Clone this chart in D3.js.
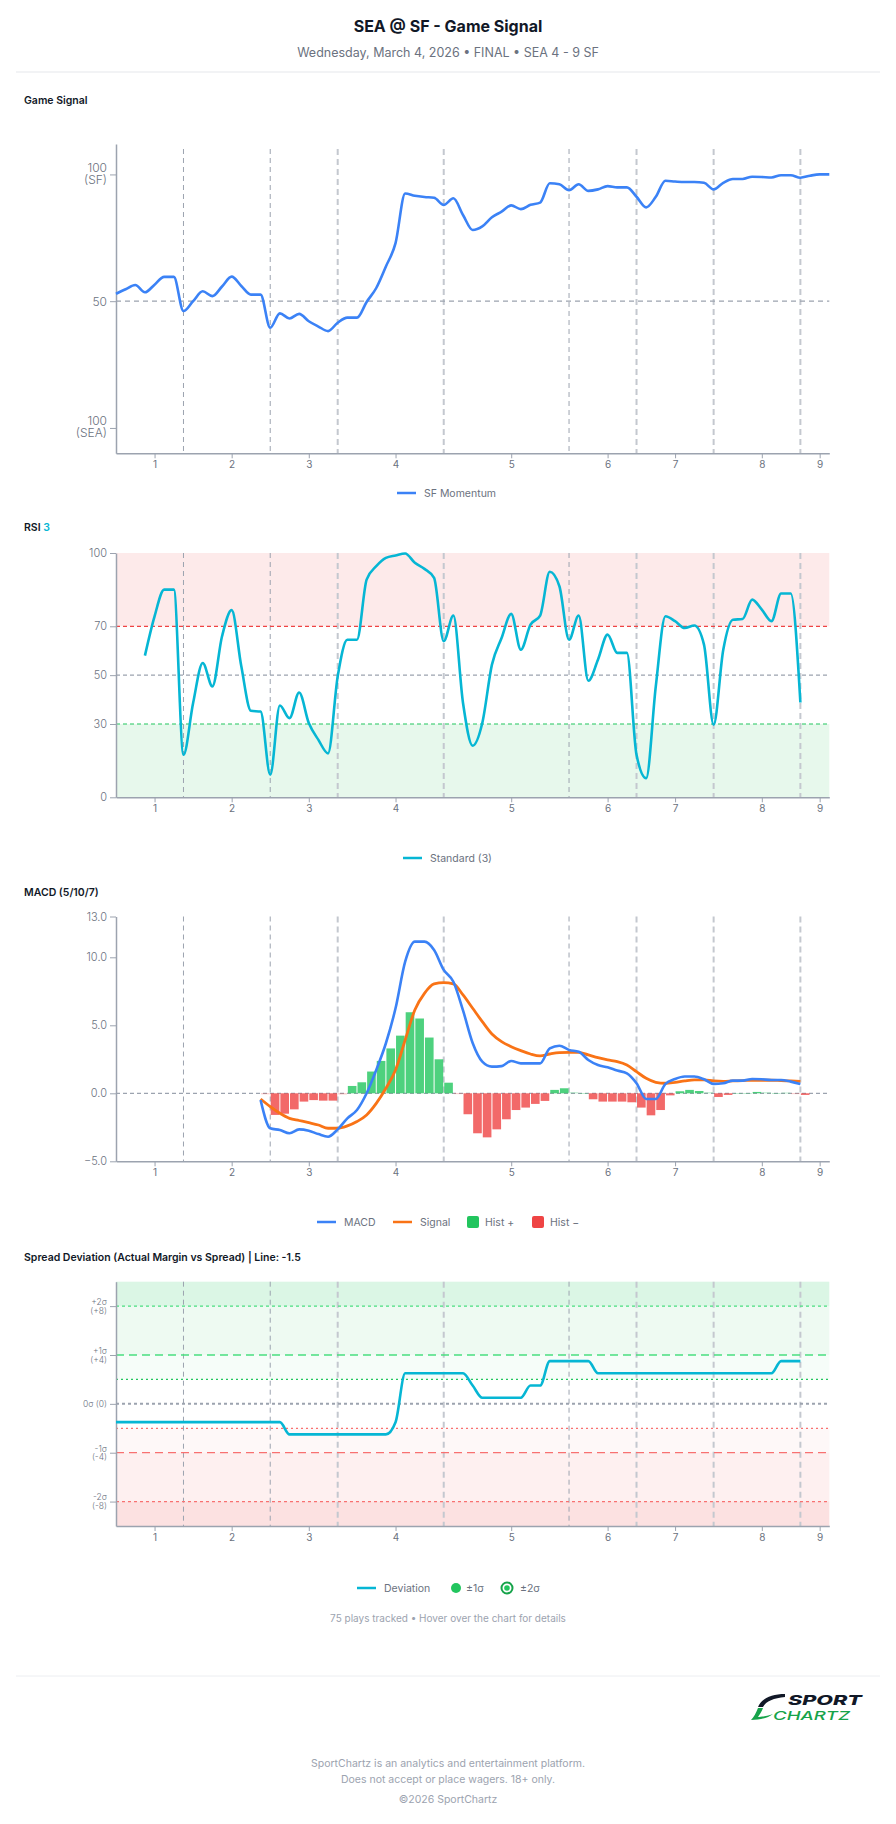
<!DOCTYPE html>
<html lang="en">
<head>
<meta charset="utf-8">
<title>SEA @ SF - Game Signal</title>
<script src="https://d3js.org/d3.v7.min.js"></script>
<style>
  body { margin: 0; background: #fff; }
  svg { display: block; font-family: Inter, "Noto Sans", sans-serif; }
</style>
</head>
<body>
<script>
const width = 896, height = 1824;

// x = play index (0..74), tick labels are innings
const inningLabels = ["1", "2", "3", "4", "5", "6", "7", "8", "9"];
const inningTickPlays = [4, 12, 20, 29, 41, 51, 58, 67, 73];
const markerPlaysThin = [7, 16, 47];
const markerPlaysThick = [23, 34, 54, 62, 71];

// Game Signal: 0 = SEA, 100 = SF
const momentum = [
  52.9, 54.7, 56.4, 53.5, 56.5, 59.6, 59.6, 46.1, 50.0, 53.9,
  52.0, 55.8, 59.7, 56.0, 52.6, 52.6, 39.5, 45.2, 43.2, 45.0,
  42.1, 40.0, 38.2, 41.5, 43.5, 43.5, 49.7, 55.2, 63.7, 72.9,
  92.5, 91.6, 91.1, 90.8, 88.0, 90.6, 84.0, 78.1, 79.5, 83.1,
  85.3, 87.8, 86.3, 88.0, 88.9, 96.5, 96.1, 93.8, 96.1, 93.5,
  94.1, 95.4, 94.9, 94.9, 91.2, 87.0, 91.2, 97.5, 97.2, 97.0,
  97.0, 96.7, 94.1, 96.7, 98.2, 98.2, 99.1, 99.0, 98.8, 99.7,
  99.7, 98.7, 99.5, 100.0, 100.0
];

const rsi = [
  null, null, null, 58.0, 74.1, 85.0, 85.0, 17.4, 38.6, 55.0,
  45.4, 65.9, 76.6, 53.6, 35.4, 35.1, 9.2, 37.6, 32.4, 42.9,
  30.4, 23.5, 18.0, 49.5, 64.5, 64.5, 89.1, 94.6, 98.0, 99.0,
  99.8, 96.0, 93.5, 89.8, 63.9, 74.4, 38.6, 21.1, 30.4, 54.3,
  65.2, 75.1, 60.4, 70.7, 74.4, 92.3, 86.4, 64.5, 74.4, 47.7,
  56.3, 66.6, 59.1, 59.1, 17.4, 7.8, 45.4, 74.1, 72.1, 69.3,
  70.3, 62.5, 29.7, 60.4, 72.7, 73.0, 80.9, 76.8, 72.1, 83.4,
  83.4, 38.8
];

const macd = [
  null, null, null, null, null, null, null, null, null, null,
  null, null, null, null, null, -0.49, -2.57, -2.70, -2.94, -2.65,
  -2.75, -3.00, -3.19, -2.65, -1.84, -1.23, 0.00, 1.72, 3.68, 6.25,
  9.68, 11.15, 11.15, 10.54, 9.07, 8.20, 6.10, 3.70, 2.33, 1.96,
  2.00, 2.38, 2.20, 2.20, 2.20, 3.30, 3.50, 3.19, 3.06, 2.45,
  2.08, 1.91, 1.67, 1.47, 0.74, -0.42, -0.42, 0.69, 1.05, 1.23,
  1.23, 1.03, 0.69, 0.74, 0.93, 0.93, 1.05, 1.03, 0.98, 0.98,
  0.86, 0.69
];

const signal = [
  null, null, null, null, null, null, null, null, null, null,
  null, null, null, null, null, -0.42, -0.98, -1.47, -1.84, -2.00,
  -2.16, -2.33, -2.57, -2.57, -2.40, -2.08, -1.59, -0.74, 0.37, 1.72,
  3.92, 6.13, 7.35, 8.04, 8.14, 8.04, 7.23, 6.25, 5.27, 4.36,
  3.80, 3.43, 3.14, 2.89, 2.75, 2.89, 2.99, 3.01, 3.01, 2.82,
  2.62, 2.45, 2.33, 2.08, 1.59, 1.10, 0.81, 0.74, 0.81, 0.91,
  0.98, 0.98, 0.91, 0.88, 0.91, 0.93, 0.96, 0.96, 0.96, 0.93,
  0.91, 0.88
];

const hist = [
  null, null, null, null, null, null, null, null, null, null,
  null, null, null, null, null, -0.07, -1.59, -1.50, -1.18, -0.61,
  -0.50, -0.54, -0.54, -0.08, 0.54, 0.81, 1.60, 2.38, 3.30, 4.24,
  5.96, 5.50, 4.10, 2.50, 0.78, -0.05, -1.54, -2.94, -3.24, -2.65,
  -1.91, -1.23, -1.05, -0.78, -0.56, 0.25, 0.37, 0.07, 0.02, -0.44,
  -0.61, -0.61, -0.61, -0.66, -1.05, -1.62, -1.23, -0.15, 0.15, 0.25,
  0.17, 0.07, -0.27, -0.12, 0.02, 0.02, 0.10, 0.07, 0.02, 0.05,
  -0.05, -0.12
];

// actual margin vs spread (-1.5)
const deviation = [
  -1.5, -1.5, -1.5, -1.5, -1.5, -1.5, -1.5, -1.5, -1.5, -1.5,
  -1.5, -1.5, -1.5, -1.5, -1.5, -1.5, -1.5, -1.5, -2.5, -2.5,
  -2.5, -2.5, -2.5, -2.5, -2.5, -2.5, -2.5, -2.5, -2.5, -1.5,
  2.5, 2.5, 2.5, 2.5, 2.5, 2.5, 2.5, 1.5, 0.5, 0.5,
  0.5, 0.5, 0.5, 1.5, 1.5, 3.5, 3.5, 3.5, 3.5, 3.5,
  2.5, 2.5, 2.5, 2.5, 2.5, 2.5, 2.5, 2.5, 2.5, 2.5,
  2.5, 2.5, 2.5, 2.5, 2.5, 2.5, 2.5, 2.5, 2.5, 3.5,
  3.5, 3.5
];

const rsiTicks = [0, 30, 50, 70, 100];
const macdTicks = [-5, 0, 5, 10, 13];
const sigmaTicks = [8, 4, 0, -4, -8];
const sigmaLabels = [["+2σ", "(+8)"], ["+1σ", "(+4)"], ["0σ (0)"], ["-1σ", "(-4)"], ["-2σ", "(-8)"]];

const svg = d3.select("body").append("svg")
  .attr("width", width)
  .attr("height", height);

const x = d3.scaleLinear().domain([0, 74]).range([116, 829.3]);
const left = x(0), right = x(74);
const step = x(1) - x(0);

const gray = "#9ca3af";
const textGray = "#6b7280";

// ---------- header ----------
svg.append("text").attr("x", 448).attr("y", 32).attr("text-anchor", "middle")
  .attr("font-size", 16).attr("font-weight", 700).attr("fill", "#111827")
  .text("SEA @ SF - Game Signal");
svg.append("text").attr("x", 448).attr("y", 57).attr("text-anchor", "middle")
  .attr("font-size", 12.5).attr("fill", textGray)
  .text("Wednesday, March 4, 2026 • FINAL • SEA 4 - 9 SF");
svg.append("line").attr("x1", 16).attr("x2", 880).attr("y1", 72).attr("y2", 72)
  .attr("stroke", "#e5e7eb");

function panelTitle(y, txt) {
  return svg.append("text").attr("x", 24).attr("y", y)
    .attr("font-size", 10.5).attr("font-weight", 600).attr("fill", "#111827")
    .text(txt);
}

function markers(top, bottom) {
  svg.append("g").selectAll("line").data(markerPlaysThin).join("line")
    .attr("x1", d => x(d)).attr("x2", d => x(d))
    .attr("y1", top).attr("y2", bottom)
    .attr("stroke", gray).attr("stroke-width", 1).attr("stroke-dasharray", "5,4");
  svg.append("g").selectAll("line").data(markerPlaysThick).join("line")
    .attr("x1", d => x(d)).attr("x2", d => x(d))
    .attr("y1", top).attr("y2", bottom)
    .attr("stroke", "#c4c8cf").attr("stroke-width", 2).attr("stroke-dasharray", "6,4");
}

function xAxis(y0) {
  const g = svg.append("g").attr("transform", "translate(0," + y0 + ")")
    .call(d3.axisBottom(x).tickValues(inningTickPlays)
      .tickFormat((d, i) => inningLabels[i]).tickSize(5).tickSizeOuter(0));
  g.select(".domain").attr("stroke", gray).attr("stroke-width", 1.5);
  g.selectAll(".tick line").attr("stroke", gray);
  g.selectAll("text").attr("fill", textGray).attr("font-size", 10)
    .attr("font-family", "Inter, sans-serif");
}

function yAxis(y, ticks, fmt, size) {
  const g = svg.append("g").attr("transform", "translate(" + left + ",0)")
    .call(d3.axisLeft(y).tickValues(ticks).tickFormat(fmt).tickSize(6).tickSizeOuter(0));
  g.select(".domain").attr("stroke", gray).attr("stroke-width", 1.5);
  g.selectAll(".tick line").attr("stroke", gray);
  g.selectAll("text").attr("fill", textGray).attr("font-size", size)
    .attr("font-weight", 300).attr("font-family", "Inter, sans-serif");
  return g;
}

function hline(y, stroke, dash, w) {
  svg.append("line").attr("x1", left).attr("x2", right).attr("y1", y).attr("y2", y)
    .attr("stroke", stroke).attr("stroke-dasharray", dash).attr("stroke-width", w || 1.2);
}

function legendLine(xp, y, color, label) {
  svg.append("line").attr("x1", xp).attr("x2", xp + 19).attr("y1", y).attr("y2", y)
    .attr("stroke", color).attr("stroke-width", 2.5);
  svg.append("text").attr("x", xp + 27).attr("y", y + 3.5)
    .attr("font-size", 10.5).attr("fill", textGray).text(label);
}

const lineGen = y => d3.line()
  .defined(d => d != null)
  .x((d, i) => x(i))
  .y(d => y(d))
  .curve(d3.curveMonotoneX);

// ---------- Panel 1: Game Signal ----------
panelTitle(104, "Game Signal");
const y1 = d3.scaleLinear().domain([-10, 112]).range([453.3, 144]);
markers(149, y1(-10));
hline(y1(50), gray, "5,4", 1.2);
const ya1 = yAxis(y1, [0, 50, 100], d => d, 12);
ya1.selectAll(".tick text").each(function (d) {
  const t = d3.select(this);
  if (d === 50) return;
  t.text(null);
  t.append("tspan").attr("x", -9).attr("dy", "-0.25em").text("100");
  t.append("tspan").attr("x", -9).attr("dy", "1em").text(d === 100 ? "(SF)" : "(SEA)");
});
xAxis(y1(-10));
svg.append("path").datum(momentum)
  .attr("fill", "none").attr("stroke", "#3b82f6").attr("stroke-width", 2.6)
  .attr("stroke-linejoin", "round").attr("d", lineGen(y1));
legendLine(397, 493, "#3b82f6", "SF Momentum");

// ---------- Panel 2: RSI ----------
const rsiTitle = panelTitle(531, "RSI ");
rsiTitle.append("tspan").attr("fill", "#06b6d4").text("3");
const y2 = d3.scaleLinear().domain([0, 100]).range([797.3, 553]);
svg.append("rect").attr("x", left).attr("width", right - left)
  .attr("y", y2(100)).attr("height", y2(70) - y2(100)).attr("fill", "#fdeaea");
svg.append("rect").attr("x", left).attr("width", right - left)
  .attr("y", y2(30)).attr("height", y2(0) - y2(30)).attr("fill", "#e7f8ec");
markers(y2(100), y2(0));
hline(y2(70), "#ef4444", "4,3", 1.2);
hline(y2(50), gray, "4,3", 1.2);
hline(y2(30), "#22c55e", "4,3", 1.2);
yAxis(y2, rsiTicks, d => d, 11);
xAxis(y2(0));
svg.append("path").datum(rsi)
  .attr("fill", "none").attr("stroke", "#06b6d4").attr("stroke-width", 2.6)
  .attr("stroke-linejoin", "round").attr("d", lineGen(y2));
legendLine(403, 858, "#06b6d4", "Standard (3)");

// ---------- Panel 3: MACD ----------
panelTitle(896, "MACD (5/10/7)");
const y3 = d3.scaleLinear().domain([-5, 13]).range([1161.3, 916.5]);
markers(y3(13), y3(-5));
hline(y3(0), gray, "4,3", 1.2);
svg.append("g").selectAll("rect")
  .data(hist.map((v, i) => ({ i, v })).filter(d => d.v != null))
  .join("rect")
  .attr("x", d => x(d.i) + 0.5)
  .attr("width", step - 1)
  .attr("y", d => y3(Math.max(0, d.v)))
  .attr("height", d => Math.max(0.8, Math.abs(y3(d.v) - y3(0))))
  .attr("fill", d => d.v >= 0 ? "#22c55e" : "#ef4444")
  .attr("fill-opacity", d => Math.abs(d.v) < 0.1 ? 0.35 : 0.8);
yAxis(y3, macdTicks, d3.format(".1f"), 11);
xAxis(y3(-5));
svg.append("path").datum(signal)
  .attr("fill", "none").attr("stroke", "#f97316").attr("stroke-width", 2.8)
  .attr("d", lineGen(y3));
svg.append("path").datum(macd)
  .attr("fill", "none").attr("stroke", "#3b82f6").attr("stroke-width", 2.6)
  .attr("d", lineGen(y3));
legendLine(317, 1222, "#3b82f6", "MACD");
legendLine(393, 1222, "#f97316", "Signal");
[["#22c55e", "Hist +", 467], ["#ef4444", "Hist \u2212", 532]].forEach(([c, t, xp]) => {
  svg.append("rect").attr("x", xp).attr("y", 1216).attr("width", 12).attr("height", 12)
    .attr("rx", 2).attr("fill", c);
  svg.append("text").attr("x", xp + 18).attr("y", 1225.5)
    .attr("font-size", 10.5).attr("fill", textGray).text(t);
});

// ---------- Panel 4: Spread Deviation ----------
panelTitle(1261, "Spread Deviation (Actual Margin vs Spread) | Line: -1.5");
const y4 = d3.scaleLinear().domain([-10, 10]).range([1526, 1281.7]);
const bands = [
  [8, 10, "rgba(34,197,94,0.16)"], [4, 8, "rgba(34,197,94,0.08)"], [2, 4, "rgba(34,197,94,0.04)"],
  [-4, -2, "rgba(239,68,68,0.04)"], [-8, -4, "rgba(239,68,68,0.08)"], [-10, -8, "rgba(239,68,68,0.16)"]
];
svg.append("g").selectAll("rect").data(bands).join("rect")
  .attr("x", left).attr("width", right - left)
  .attr("y", d => y4(d[1])).attr("height", d => y4(d[0]) - y4(d[1]))
  .attr("fill", d => d[2]);
markers(y4(10), y4(-10));
hline(y4(8), "#4ade80", "3,3", 1.3);
hline(y4(4), "#4ade80", "8,5", 1.3);
hline(y4(2), "#22c55e", "2,3", 1.3);
hline(y4(0), gray, "3,3", 2);
hline(y4(-2), "#f87171", "2,3", 1.3);
hline(y4(-4), "#f87171", "8,5", 1.3);
hline(y4(-8), "#f87171", "3,3", 1.3);
const ya4 = yAxis(y4, sigmaTicks, d => d, 8.5);
ya4.selectAll(".tick text").each(function (d, i) {
  const t = d3.select(this);
  const lab = sigmaLabels[i];
  t.text(null);
  if (lab.length === 1) { t.text(lab[0]); return; }
  t.append("tspan").attr("x", -9).attr("dy", "-0.2em").text(lab[0]);
  t.append("tspan").attr("x", -9).attr("dy", "1.05em").text(lab[1]);
});
xAxis(y4(-10));
svg.append("path").datum(deviation)
  .attr("fill", "none").attr("stroke", "#06b6d4").attr("stroke-width", 2.6)
  .attr("d", lineGen(y4));
legendLine(357, 1588, "#06b6d4", "Deviation");
svg.append("circle").attr("cx", 456).attr("cy", 1588).attr("r", 5).attr("fill", "#22c55e");
svg.append("text").attr("x", 466).attr("y", 1591.5).attr("font-size", 10.5).attr("fill", textGray).text("±1σ");
svg.append("circle").attr("cx", 507).attr("cy", 1588).attr("r", 5.5).attr("fill", "none")
  .attr("stroke", "#16a34a").attr("stroke-width", 2);
svg.append("circle").attr("cx", 507).attr("cy", 1588).attr("r", 2.8).attr("fill", "#22c55e");
svg.append("text").attr("x", 520).attr("y", 1591.5).attr("font-size", 10.5).attr("fill", textGray).text("±2σ");

svg.append("text").attr("x", 448).attr("y", 1622).attr("text-anchor", "middle")
  .attr("font-size", 10).attr("fill", gray)
  .text("75 plays tracked • Hover over the chart for details");

// ---------- footer ----------
svg.append("line").attr("x1", 16).attr("x2", 880).attr("y1", 1676).attr("y2", 1676)
  .attr("stroke", "#eceef1");
// logo swoosh
svg.append("path").attr("fill", "#111827")
  .attr("d", "M785,1694 C772,1694 762,1698 758,1707 L763,1707 C766,1701 774,1698 785,1697 Z");
svg.append("path").attr("fill", "#16a34a")
  .attr("d", "M758,1708 C756,1713 754,1717 751,1720 C760,1720 768,1718 773,1714 C767,1716 761,1717 758,1717 C760,1714 762,1711 763,1708 Z");
svg.append("text").attr("x", 788).attr("y", 1705).attr("font-size", 13.5).attr("font-weight", 800)
  .attr("font-style", "italic").attr("fill", "#111827")
  .attr("textLength", 74).attr("lengthAdjust", "spacingAndGlyphs").text("SPORT");
svg.append("text").attr("x", 773).attr("y", 1720).attr("font-size", 12).attr("font-weight", 500)
  .attr("font-style", "italic").attr("fill", "#16a34a")
  .attr("textLength", 77).attr("lengthAdjust", "spacingAndGlyphs").text("CHARTZ");

const footer = ["SportChartz is an analytics and entertainment platform.",
  "Does not accept or place wagers. 18+ only.", "©2026 SportChartz"];
svg.append("g").selectAll("text").data(footer).join("text")
  .attr("x", 448).attr("y", (d, i) => [1767, 1783, 1803][i])
  .attr("text-anchor", "middle").attr("font-size", 10.5).attr("fill", gray)
  .text(d => d);
</script>
</body>
</html>
